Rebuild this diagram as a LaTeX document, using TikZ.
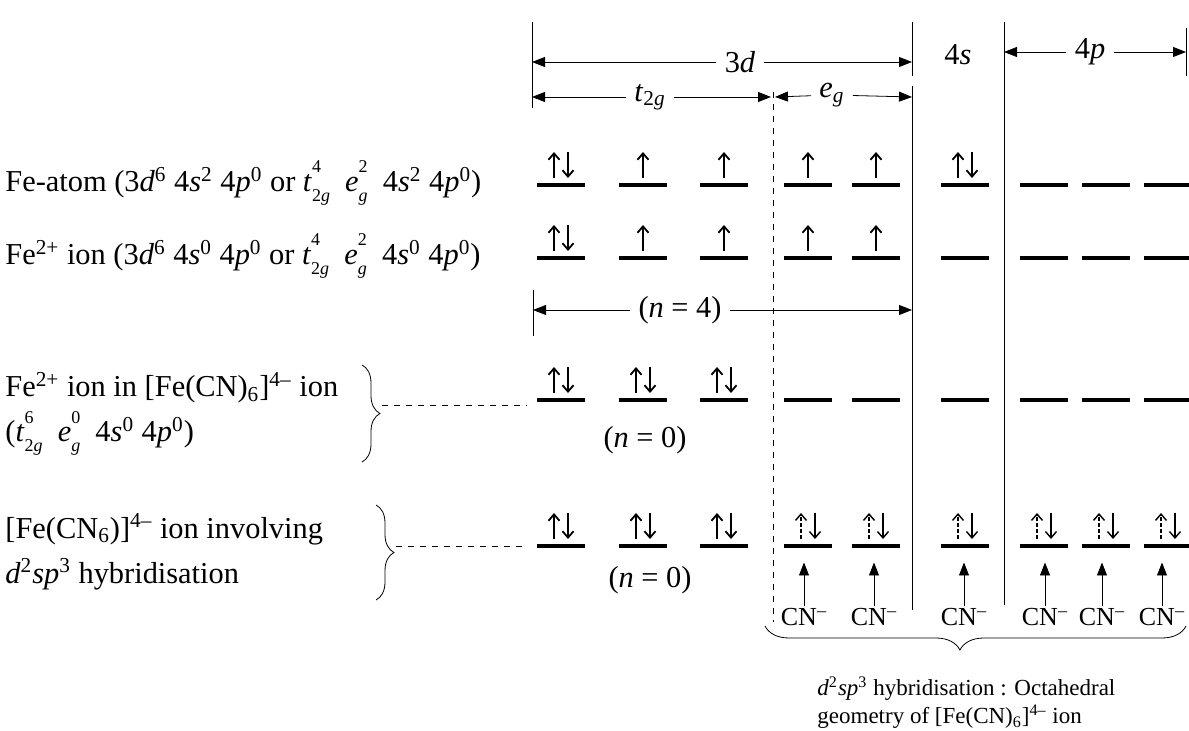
\documentclass[tikz,border=0pt]{standalone}
\usepackage{fontspec}
\setmainfont{Liberation Serif}
\usetikzlibrary{arrows.meta,decorations.pathreplacing,positioning}

\newcommand{\hi}[1]{\textsuperscript{#1}}
\newcommand{\lo}[1]{\textsubscript{#1}}
\newcommand{\ud}[2]{\rlap{\raisebox{0.62em}{\fontsize{9}{9}\selectfont #2}}%
  \raisebox{-0.32em}{\fontsize{9}{9}\selectfont #1}}

\begin{document}
\begin{tikzpicture}[
        x=0.5pt, y=-0.5pt,
        every node/.style={font=\fontsize{15.2}{22.5}\selectfont, inner sep=1pt},
        txt/.style={anchor=west, align=left},
        head/.style={inner sep=4pt},
        orb/.style={fill=black, inner sep=0pt, minimum width=24pt, minimum height=2.1pt},
        spin/.style={-{Straight Barb[length=3.2pt,width=5.5pt]}, line width=0.9pt},
        hspin/.style={spin, line width=0.7pt},
        dim/.style={-{Triangle[length=6.5pt,width=5pt]}, thin},
        tick/.style={thin},
        lig/.style={-{Triangle[length=6.5pt,width=5pt]}, thin, shorten >=7pt},
        link/.style={dashed, thin, shorten >=5pt},
        brc/.style={thin, decorate, decoration={brace, amplitude=9pt}},
        cn/.style={font=\fontsize{13}{15}\selectfont},
        pair/.pic={\draw[spin] (-7,-7) -- (-7,-33); \draw[spin] (7,-33) -- (7,-7);},
        single/.pic={\draw[spin] (0,-7) -- (0,-33);},
        hpair/.pic={\draw[hspin, dash pattern=on 2pt off 1pt] (-7,-7) -- (-7,-33);
            \draw[hspin] (7,-33) -- (7,-7);}
      ]
      \useasboundingbox (0,0) rectangle (1189,731);

      % column heads
      \draw[tick] (532,22) -- (532,108);
      \draw[tick] (912,22) -- (912,76);
      \draw[tick] (912,86) -- (912,610);
      \draw[tick] (1004,22) -- (1004,605);
      \draw[tick] (1186,28) -- (1186,76);
      \draw[tick, dashed] (773,92) -- (773,622);

      \coordinate (d3L) at (532,62);
      \coordinate (d3R) at (912,62);
      \node[head] (l3d) at (740,62) {3\textit{d}};
      \draw[dim] (l3d) -- (d3L);
      \draw[dim] (l3d) -- (d3R);

      \node[head] (l4s) at (958,55) {4\textit{s}};

      \coordinate (p4L) at (1004,52);
      \coordinate (p4R) at (1186,52);
      \node[head] (l4p) at (1090,52) {4\textit{p}};
      \draw[dim] (l4p) -- (p4L);
      \draw[dim] (l4p) -- (p4R);

      \coordinate (t2L) at (532,97);
      \coordinate (t2R) at (771,97);
      \node[head] (lt2g) at (650,97) {\textit{t}\lo{2\textit{g}}};
      \draw[dim] (lt2g) -- (t2L);
      \draw[dim] (lt2g) -- (t2R);

      \coordinate (egL) at (775,97);
      \coordinate (egR) at (912,97);
      \node[head] (leg) at (832,95) {\textit{e}\lo{\textit{g}}};
      \draw[dim] (leg) -- (egL);
      \draw[dim] (leg) -- (egR);

      % orbital rows
      \foreach \x [count=\i] in {561,643,724,808,876,965,1044,1106,1168}{
          \node[orb] (r1c\i) at (\x,185) {};
          \node[orb] (r2c\i) at (\x,258) {};
          \node[orb] (r3c\i) at (\x,400) {};
          \node[orb] (r4c\i) at (\x,546) {};
        }

      \pic at (r1c1) {pair};
      \foreach \i in {2,...,5}{ \pic at (r1c\i) {single}; }
      \pic at (r1c6) {pair};

      \pic at (r2c1) {pair};
      \foreach \i in {2,...,5}{ \pic at (r2c\i) {single}; }

      \foreach \i in {1,2,3}{ \pic at (r3c\i) {pair}; }

      \foreach \i in {1,2,3}{ \pic at (r4c\i) {pair}; }
      \foreach \i in {4,...,9}{ \pic at (r4c\i) {hpair}; }

      % n = 4
      \draw[tick] (533,290) -- (533,336);
      \coordinate (n4L) at (533,310);
      \coordinate (n4R) at (912,310);
      \node[head] (ln4) at (680,310) {(\textit{n} = 4)};
      \draw[dim] (ln4) -- (n4L);
      \draw[dim] (ln4) -- (n4R);

      \node (ln0a) at (645,440) {(\textit{n} = 0)};
      \node (ln0b) at (650,580) {(\textit{n} = 0)};

      % left labels
      \node[txt] (t1) at (3,183) {Fe-atom (3\textit{d}\hi{6} 4\textit{s}\hi{2} 4\textit{p}\hi{0} or
          \textit{t}\ud{2\textit{g}}{4}\ \ \textit{e}\ud{\textit{g}}{2}\ \ 4\textit{s}\hi{2} 4\textit{p}\hi{0})};
      \node[txt] (t2) at (3,256) {Fe\hi{2+} ion (3\textit{d}\hi{6} 4\textit{s}\hi{0} 4\textit{p}\hi{0} or
          \textit{t}\ud{2\textit{g}}{4}\ \ \textit{e}\ud{\textit{g}}{2}\ \ 4\textit{s}\hi{0} 4\textit{p}\hi{0})};
      \node[txt] (t3) at (3,414) {Fe\hi{2+} ion in [Fe(CN)\lo{6}]\hi{4–} ion\\
          (\textit{t}\ud{2\textit{g}}{6}\ \ \textit{e}\ud{\textit{g}}{0}\ \ 4\textit{s}\hi{0} 4\textit{p}\hi{0})};
      \node[txt] (t4) at (3,552) {[Fe(CN\lo{6})]\hi{4–} ion involving\\
          \textit{d}\hi{2}\textit{sp}\hi{3} hybridisation};

      \draw[brc] (362,365) -- (362,462);
      \coordinate (b3) at (382,405);
      \draw[link] (b3) -- (b3 -| r3c1.west);

      \draw[brc] (376,505) -- (376,600);
      \coordinate (b4) at (396,546);
      \draw[link] (b4) -- (b4 -| r4c1.west);

      % ligands
      \foreach \x/\i in {804/4, 874/5, 964/6, 1045/7, 1102/8, 1162/9}{
          \node[cn] (cn\i) at (\x,617) {CN\hi{–}};
          \draw[lig] (cn\i.north) -- (cn\i.north |- r4c\i.south);
        }

      \draw[thin, decorate, decoration={brace, mirror, amplitude=12pt, aspect=0.463}]
      (765,626) -- (1186,626);
      \node[txt, anchor=north west, font=\fontsize{11.5}{14}\selectfont]
      (geo) at (815,674) {\textit{d}\hi{2}\textit{sp}\hi{3} hybridisation : Octahedral\\
          geometry of [Fe(CN)\lo{6}]\hi{4–} ion};
    \end{tikzpicture}
\end{document}
